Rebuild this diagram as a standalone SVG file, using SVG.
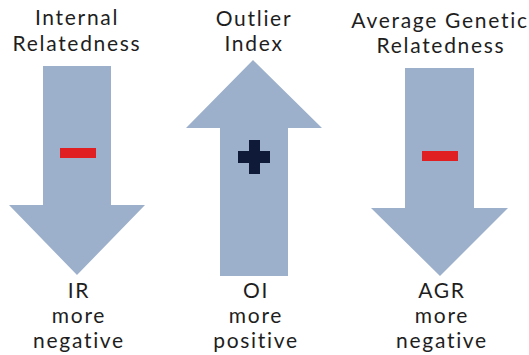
<svg xmlns="http://www.w3.org/2000/svg" width="529" height="355" viewBox="0 0 529 355">
<style>
.arrow{fill:#9cb0cb}
.lbl{font-family:Lato,"Open Sans",sans-serif;font-size:21px;letter-spacing:1.7px;fill:#1e1e1e;text-anchor:middle}
.minus{fill:#e01f23}
.plus{fill:#0f1a38}
</style>
<rect width="529" height="355" fill="#ffffff"/>
<g id="node-ir">
<text class="lbl" x="77" y="25">Internal</text>
<text class="lbl" x="77" y="51">Relatedness</text>
<polygon class="arrow" points="43,66 111,66 111,205 145,205 77,275 9,205 43,205"/>
<rect class="minus" x="60" y="148" width="36" height="10"/>
<text class="lbl" x="79" y="298">IR</text>
<text class="lbl" x="79" y="323">more</text>
<text class="lbl" x="79" y="348">negative</text>
</g>
<g id="node-oi">
<text class="lbl" x="254" y="26">Outlier</text>
<text class="lbl" x="254" y="51">Index</text>
<polygon class="arrow" points="253,60 322,128 288,128 288,276 220,276 220,128 186,128"/>
<path class="plus" d="M249,140h11v11h10v12h-10v11h-11v-11h-11v-12h11z"/>
<text class="lbl" x="256" y="298">OI</text>
<text class="lbl" x="256" y="323">more</text>
<text class="lbl" x="256" y="348">positive</text>
</g>
<g id="node-agr">
<text class="lbl" x="440" y="28">Average Genetic</text>
<text class="lbl" x="441" y="53">Relatedness</text>
<polygon class="arrow" points="405,68 474,68 474,208 508,208 440,276 371,208 405,208"/>
<rect class="minus" x="422" y="151" width="36" height="10"/>
<text class="lbl" x="442" y="298">AGR</text>
<text class="lbl" x="442" y="323">more</text>
<text class="lbl" x="442" y="348">negative</text>
</g>
<g id="connectors"></g>
</svg>
